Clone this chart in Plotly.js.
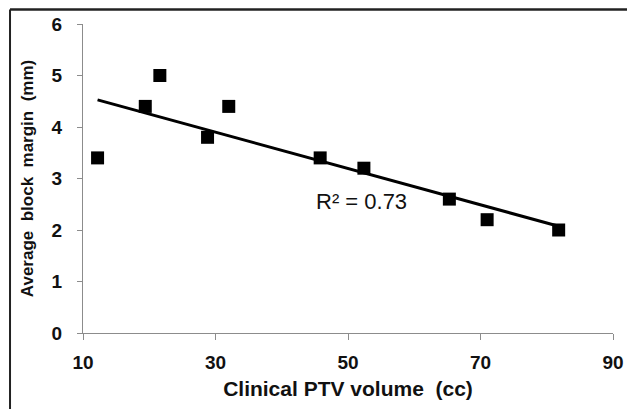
<!DOCTYPE html>
<html>
<head>
<meta charset="utf-8">
<script src="https://cdn.plot.ly/plotly-3.0.1.min.js"></script>
<style>
  html, body { margin: 0; padding: 0; background: #ffffff; }
  #chart { width: 627px; height: 409px; }
</style>
</head>
<body>
<div id="chart"></div>
<script>
// Data
const volumeCC = [12.2, 19.4, 21.6, 28.8, 32.0, 45.8, 52.4, 65.3, 71.0, 81.8];
const blockMarginMM = [3.4, 4.4, 5.0, 3.8, 4.4, 3.4, 3.2, 2.6, 2.2, 2.0];
const xTickVals = [10, 30, 50, 70, 90];
const yTickVals = [0, 1, 2, 3, 4, 5, 6];
const r2Label = "R\u00b2 = 0.73";
const xTitle = "Clinical PTV volume&nbsp; (cc)";
const yTitle = "Average&nbsp; block&nbsp; margin&nbsp; (mm)";

// Linear least-squares trend line
const n = volumeCC.length;
const mx = volumeCC.reduce((a, b) => a + b, 0) / n;
const my = blockMarginMM.reduce((a, b) => a + b, 0) / n;
let sxy = 0, sxx = 0;
for (let i = 0; i < n; i++) {
  sxy += (volumeCC[i] - mx) * (blockMarginMM[i] - my);
  sxx += (volumeCC[i] - mx) * (volumeCC[i] - mx);
}
const slope = sxy / sxx;
const intercept = my - slope * mx;
const xMin = Math.min(...volumeCC), xMax = Math.max(...volumeCC);
const trendX = [xMin, xMax];
const trendY = trendX.map(x => intercept + slope * x);

const font = "Liberation Sans, Arial, sans-serif";
const axisGray = "#8c8c8c";

const traces = [
  {
    x: trendX, y: trendY, type: "scatter", mode: "lines",
    line: { color: "#000000", width: 3 }, hoverinfo: "skip", showlegend: false
  },
  {
    x: volumeCC, y: blockMarginMM, type: "scatter", mode: "markers",
    marker: { symbol: "square", size: 13, color: "#000000" }, showlegend: false
  }
];

const layout = {
  width: 627, height: 409,
  margin: { l: 83, r: 14, t: 24, b: 76 },
  paper_bgcolor: "#ffffff", plot_bgcolor: "#ffffff",
  font: { family: font, color: "#111111" },
  xaxis: {
    range: [10, 90], tickvals: xTickVals, ticktext: xTickVals.map(String),
    showgrid: false, zeroline: false, showline: true, linecolor: axisGray, linewidth: 1,
    ticks: "outside", ticklen: 6, tickcolor: axisGray, tickwidth: 1,
    tickfont: { family: font, size: 19, color: "#111111", weight: "bold" },
    ticklabelstandoff: 6,
    title: { text: xTitle, font: { family: font, size: 21, color: "#111111", weight: "bold" }, standoff: 9 }
  },
  yaxis: {
    range: [0, 6], tickvals: yTickVals, ticktext: yTickVals.map(String),
    showgrid: false, zeroline: false, showline: true, linecolor: axisGray, linewidth: 1,
    ticks: "outside", ticklen: 5, tickcolor: axisGray, tickwidth: 1,
    tickfont: { family: font, size: 19, color: "#111111", weight: "bold" },
    ticklabelstandoff: 11,
    title: { text: yTitle, font: { family: font, size: 17, color: "#111111", weight: "bold" }, standoff: 13 }
  },
  annotations: [
    {
      x: 52, y: 2.55, xref: "x", yref: "y", text: r2Label, showarrow: false,
      font: { family: font, size: 22, color: "#111111" }
    }
  ],
  shapes: [
    { type: "line", xref: "paper", yref: "paper", x0: -0.1377, x1: 1.05, y0: 1.0469, y1: 1.0469,
      line: { color: "#222222", width: 2.5 } },
    { type: "line", xref: "paper", yref: "paper", x0: -0.1377, x1: -0.1377, y0: 1.0469, y1: -0.4,
      line: { color: "#222222", width: 2 } }
  ]
};

Plotly.newPlot("chart", traces, layout, { displayModeBar: false, staticPlot: true });
</script>
</body>
</html>
